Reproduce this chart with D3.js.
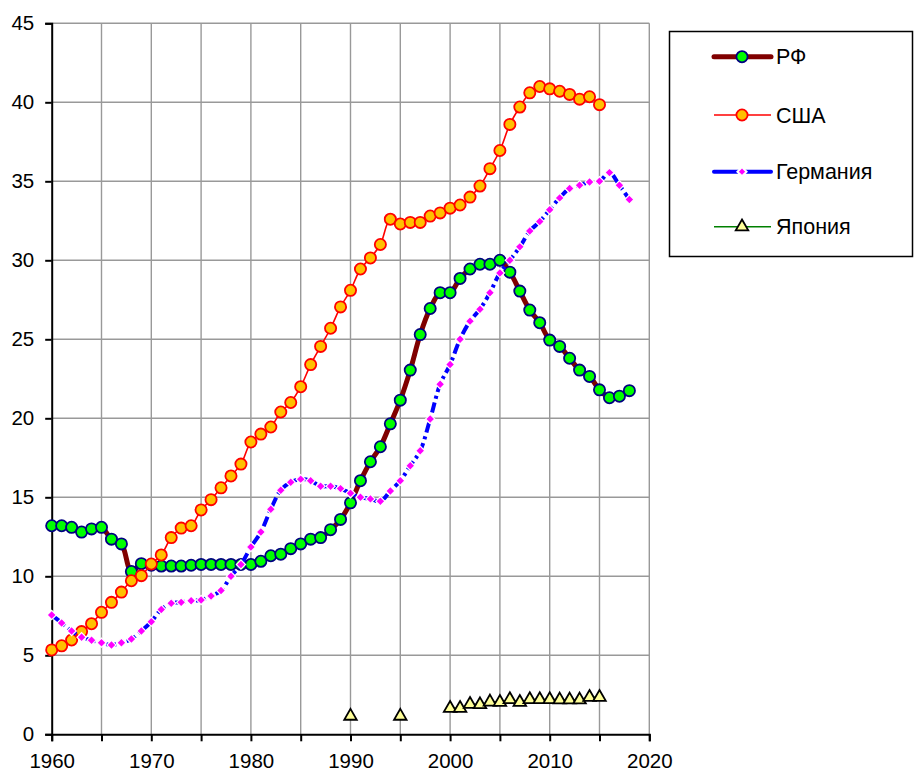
<!DOCTYPE html>
<html>
<head>
<meta charset="utf-8">
<script src="https://cdn.jsdelivr.net/npm/d3@7/dist/d3.min.js"></script>
<style>
  body { margin: 0; background: #fff; }
  text { font-family: "Liberation Sans", Arial, sans-serif; }
</style>
</head>
<body>
<svg></svg>
<script>
window.onload = () => {

  const width = 914;
  const height = 773;

  // values
  const seriesNames = ['РФ', 'США', 'Германия', 'Япония'];

  const rfStart = 1960;
  const rfValues = [
    13.2, 13.2, 13.1, 12.8, 13.0, 13.1, 12.35, 12.05, 10.3, 10.8,
    10.7, 10.65, 10.65, 10.65, 10.7, 10.75, 10.75, 10.75, 10.75, 10.75,
    10.75, 10.95, 11.3, 11.4, 11.75, 12.05, 12.35, 12.45, 12.95, 13.6,
    14.65, 16.05, 17.25, 18.2, 19.65, 21.15, 23.05, 25.3, 26.95, 27.95,
    27.95, 28.85, 29.45, 29.75, 29.75, 30.0, 29.25, 28.05, 26.85, 26.05,
    24.95, 24.55, 23.8, 23.05, 22.65, 21.8, 21.3, 21.4, 21.75
  ];

  const usaStart = 1960;
  const usaValues = [
    5.34, 5.6, 5.97, 6.5, 7.0, 7.72, 8.35, 9.0, 9.72, 10.04,
    10.78, 11.35, 12.45, 13.05, 13.2, 14.2, 14.85, 15.6, 16.35, 17.1,
    18.5, 19.0, 19.45, 20.4, 21.0, 22.0, 23.4, 24.55, 25.7, 27.05,
    28.1, 29.45, 30.15, 31.0, 32.6, 32.3, 32.4, 32.4, 32.8, 33.0,
    33.3, 33.5, 34.0, 34.7, 35.8, 36.95, 38.6, 39.7, 40.6, 41.0,
    40.85, 40.7, 40.5, 40.2, 40.35, 39.85
  ];

  const deStart = 1960;
  const deValues = [
    7.55, 7.05, 6.54, 6.14, 5.95, 5.8, 5.65, 5.8, 6.03, 6.54,
    7.13, 7.9, 8.3, 8.35, 8.45, 8.5, 8.75, 9.1, 10.0, 10.75,
    11.85, 12.8, 14.25, 15.45, 15.95, 16.15, 16.05, 15.7, 15.7, 15.55,
    15.25, 15.0, 14.9, 14.75, 15.4, 16.05, 17.0, 17.95, 19.95, 22.15,
    23.4, 25.0, 26.15, 26.9, 27.95, 29.2, 30.0, 30.85, 31.85, 32.45,
    33.2, 33.95, 34.55, 34.75, 34.95, 35.0, 35.55, 34.75, 33.85
  ];

  const jpYears = [1990, 1995, 2000, 2001, 2002, 2003, 2004, 2005, 2006,
    2007, 2008, 2009, 2010, 2011, 2012, 2013, 2014, 2015];
  const jpValues = [1.15, 1.15, 1.65, 1.65, 1.9, 1.88, 2.05, 2.03, 2.2,
    2.03, 2.2, 2.2, 2.2, 2.18, 2.18, 2.18, 2.35, 2.35];

  const xTicks = [1960, 1970, 1980, 1990, 2000, 2010, 2020];
  const yTicks = [0, 5, 10, 15, 20, 25, 30, 35, 40, 45];

  const toPoints = (start, values) => values.map((v, i) => ({year: start + i, value: v}));
  const rf = toPoints(rfStart, rfValues);
  const usa = toPoints(usaStart, usaValues);
  const de = toPoints(deStart, deValues);
  const jp = jpYears.map((y, i) => ({year: y, value: jpValues[i]}));

  const svg = d3.select('svg').attr('width', width).attr('height', height);

  const left = 51.7, right = 649.3, top = 23.3, bottom = 734.3;

  const xScale = d3.scaleLinear().domain([1960, 2020]).range([left, right]);
  const yScale = d3.scaleLinear().domain([0, 45]).range([bottom, top]);

  // grid
  const grid = svg.append('g').attr('class', 'grid');
  grid.selectAll('.vgrid')
    .data(d3.range(1965, 2021, 5))
    .enter()
    .append('line')
    .attr('x1', d => xScale(d)).attr('x2', d => xScale(d))
    .attr('y1', top).attr('y2', bottom)
    .attr('stroke', '#999').attr('stroke-width', 1.4);
  grid.selectAll('.hgrid')
    .data(yTicks.slice(1))
    .enter()
    .append('line')
    .attr('x1', left).attr('x2', right)
    .attr('y1', d => yScale(d)).attr('y2', d => yScale(d))
    .attr('stroke', '#999').attr('stroke-width', 1.4);

  // axes
  const xAxis = svg.append('g')
      .attr('transform', 'translate(0,' + bottom + ')')
      .call(d3.axisBottom(xScale).tickValues(d3.range(1960, 2021, 5)).tickSize(7).tickPadding(12)
        .tickFormat(d => xTicks.includes(d) ? d : ''));
  const yAxis = svg.append('g')
      .attr('transform', 'translate(' + left + ',0)')
      .call(d3.axisLeft(yScale).tickValues(yTicks).tickSize(6.5).tickPadding(11));

  [xAxis, yAxis].forEach(a => {
    a.select('.domain').attr('stroke', '#000').attr('stroke-width', 2);
    a.selectAll('.tick line').attr('stroke', '#000').attr('stroke-width', 2);
    a.selectAll('text').attr('font-size', 20.5).attr('fill', '#000')
      .attr('font-family', '"Liberation Sans", Arial, sans-serif');
  });

  const smooth = d3.line()
    .x(d => xScale(d.year)).y(d => yScale(d.value))
    .curve(d3.curveCatmullRom.alpha(0.5));

  const diamond = d3.symbol(d3.symbolSquare, 42);
  const triangle = d3.symbol(d3.symbolTriangle, 68);

  // РФ
  svg.append('path').datum(rf)
    .attr('d', smooth).attr('fill', 'none')
    .attr('stroke', '#800000').attr('stroke-width', 5);
  svg.selectAll('.rf')
    .data(rf).enter().append('circle')
    .attr('cx', d => xScale(d.year)).attr('cy', d => yScale(d.value)).attr('r', 5.6)
    .attr('fill', '#00ff00').attr('stroke', '#000080').attr('stroke-width', 1.8);

  // США
  svg.append('path').datum(usa)
    .attr('d', smooth).attr('fill', 'none')
    .attr('stroke', '#ff0000').attr('stroke-width', 1.6);
  svg.selectAll('.usa')
    .data(usa).enter().append('circle')
    .attr('cx', d => xScale(d.year)).attr('cy', d => yScale(d.value)).attr('r', 5.6)
    .attr('fill', '#ffc000').attr('stroke', '#ff0000').attr('stroke-width', 1.8);

  // Германия
  svg.append('path').datum(de)
    .attr('d', smooth).attr('fill', 'none')
    .attr('stroke', '#0000ff').attr('stroke-width', 4)
    .attr('stroke-dasharray', '10,4,3,4');
  svg.selectAll('.de')
    .data(de).enter().append('path')
    .attr('d', diamond)
    .attr('transform', d => 'translate(' + xScale(d.year) + ',' + yScale(d.value) + ') rotate(45)')
    .attr('fill', '#ff00ff').attr('stroke', '#fff').attr('stroke-width', 1.2);

  // Япония: line only between consecutive years
  const jpLine = d3.line().x(d => xScale(d.year)).y(d => yScale(d.value));
  for (let i = 1; i < jp.length; i++) {
    if (jp[i].year - jp[i - 1].year === 1) {
      svg.append('path').datum([jp[i - 1], jp[i]])
        .attr('d', jpLine).attr('fill', 'none')
        .attr('stroke', '#008000').attr('stroke-width', 1.6);
    }
  }
  svg.selectAll('.jp')
    .data(jp).enter().append('path')
    .attr('d', triangle)
    .attr('transform', d => 'translate(' + xScale(d.year) + ',' + yScale(d.value) + ')')
    .attr('fill', '#ffff99').attr('stroke', '#000').attr('stroke-width', 1.8);

  // legend
  const legend = svg.append('g');
  legend.append('rect')
    .attr('x', 669.5).attr('y', 31.5).attr('width', 243).attr('height', 225)
    .attr('fill', '#fff').attr('stroke', '#000').attr('stroke-width', 1.5);

  const rows = [56.7, 115, 171.7, 226.7];
  const lx1 = 714, lx2 = 771, mx = 742;

  legend.append('line').attr('x1', lx1).attr('x2', lx2).attr('y1', rows[0]).attr('y2', rows[0])
    .attr('stroke', '#800000').attr('stroke-width', 5).attr('stroke-linecap', 'round');
  legend.append('circle').attr('cx', mx).attr('cy', rows[0]).attr('r', 5.6)
    .attr('fill', '#00ff00').attr('stroke', '#000080').attr('stroke-width', 1.8);

  legend.append('line').attr('x1', lx1).attr('x2', lx2).attr('y1', rows[1]).attr('y2', rows[1])
    .attr('stroke', '#ff0000').attr('stroke-width', 1.6);
  legend.append('circle').attr('cx', mx).attr('cy', rows[1]).attr('r', 5.6)
    .attr('fill', '#ffc000').attr('stroke', '#ff0000').attr('stroke-width', 1.8);

  legend.append('line').attr('x1', lx1).attr('x2', lx2).attr('y1', rows[2]).attr('y2', rows[2])
    .attr('stroke', '#0000ff').attr('stroke-width', 4).attr('stroke-linecap', 'round');
  legend.append('path').attr('d', diamond)
    .attr('transform', 'translate(' + mx + ',' + rows[2] + ') rotate(45)')
    .attr('fill', '#ff00ff').attr('stroke', '#fff').attr('stroke-width', 2);

  legend.append('line').attr('x1', lx1).attr('x2', lx2).attr('y1', rows[3]).attr('y2', rows[3])
    .attr('stroke', '#008000').attr('stroke-width', 1.6);
  legend.append('path').attr('d', triangle)
    .attr('transform', 'translate(' + mx + ',' + rows[3] + ')')
    .attr('fill', '#ffff99').attr('stroke', '#000').attr('stroke-width', 1.8);

  legend.selectAll('.label')
    .data(seriesNames).enter().append('text')
    .attr('x', 776).attr('y', (d, i) => rows[i] + 7.5)
    .attr('font-size', 21.5).attr('fill', '#000')
    .text(d => d);

};
</script>
</body>
</html>
